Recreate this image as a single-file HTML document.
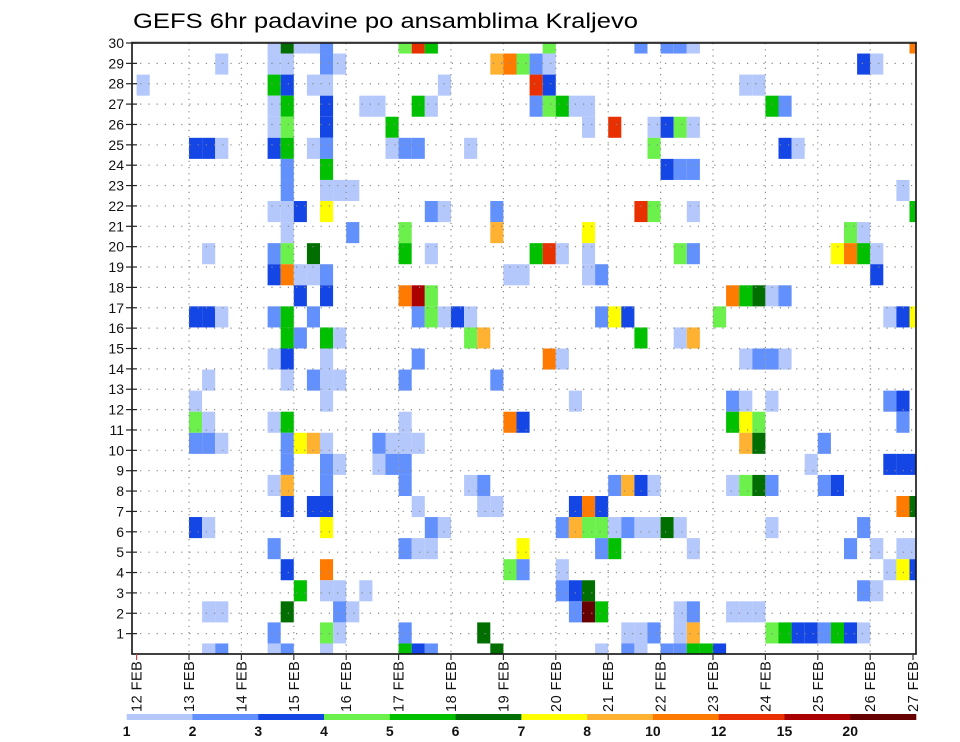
<!DOCTYPE html>
<html><head><meta charset="utf-8"><title>GEFS 6hr padavine po ansamblima Kraljevo</title>
<style>
html,body{margin:0;padding:0;background:#fff;}
svg{display:block;font-family:"Liberation Sans",sans-serif;}
</style></head>
<body>
<svg id="chart" width="960" height="742" viewBox="0 0 960 742" xmlns="http://www.w3.org/2000/svg">
<rect x="0" y="0" width="960" height="742" fill="#fff"/>
<text x="133" y="28" font-size="21" textLength="505" lengthAdjust="spacingAndGlyphs" fill="#000">GEFS 6hr padavine po ansamblima Kraljevo</text>
<g id="cells"></g>
<g id="grid"></g>
<g id="axes"></g>
<g id="legend"></g>
</svg>
<script>
// ---- data ----
const dayLabels = ["12 FEB","13 FEB","14 FEB","15 FEB","16 FEB","17 FEB","18 FEB","19 FEB","20 FEB","21 FEB","22 FEB","23 FEB","24 FEB","25 FEB","26 FEB","27 FEB"];
const memberTicks = [1,2,3,4,5,6,7,8,9,10,11,12,13,14,15,16,17,18,19,20,21,22,23,24,25,26,27,28,29,30];
const levelLabels = ["1","2","3","4","5","6","7","8","10","12","15","20"];
const levelCodes = "LMDgGKYAORXZ";
// each row (top to bottom): "timestepIndex+levelCode"
const rowCells = [
"10L 11K 12L 13L 14M 20g 21R 22G 31g 38M 40M 41M 42L 59O",
"6L 10L 11L 14M 15L 27A 28O 29g 30M 31L 55D 56L",
"0L 10G 11D 13L 14L 23L 30R 31D 46L 47L",
"10L 11G 14D 17L 18L 21G 22L 30M 31g 32G 33L 34L 48G 49M",
"10L 11g 14D 19G 34L 36R 39L 40D 41g 42L",
"4D 5D 6L 10D 11G 13L 14M 19L 20M 21M 25L 39g 49D 50L",
"11M 14G 40D 41M 42M",
"11M 14L 15L 16L 58L",
"10L 11L 12D 14Y 22M 23L 27M 38R 39g 42L 59G",
"11L 16M 20g 27A 34Y 54g 55L",
"5L 10M 11g 13K 20G 22L 30G 31R 32L 34L 41g 42M 53Y 54O 55G 56L",
"10D 11O 12L 13L 14M 28L 29L 34L 35M 56D",
"12D 14D 20O 21X 22g 45O 46G 47K 48L 49M",
"4D 5D 6L 10M 11G 13M 21M 22g 23L 24D 25L 35M 36Y 37D 44g 57L 58D 59Y",
"11G 12M 14G 15L 25g 26A 38G 41L 42A",
"10L 11D 14L 21M 31O 32L 46L 47M 48M 49L",
"5L 11L 13M 14L 15L 20M 27M",
"4L 14L 33L 45M 46L 48L 57M 58D",
"4g 5L 10L 11G 20L 28O 29D 45G 46Y 47g 58M",
"4M 5M 6L 11M 12Y 13A 14L 18M 19L 20L 21L 46A 47K 52M",
"11M 14M 15L 18L 19M 20M 51L 57D 58D 59D",
"10L 11A 14M 20M 25L 26M 36M 37A 38D 39L 45L 46g 47K 48M 52M 53D",
"11D 13D 14D 21L 26L 27L 33D 34O 35D 58O 59K",
"4D 5L 14Y 22M 23L 32M 33A 34g 35g 36L 37M 38L 39L 40K 41L 48L 55M",
"10M 20M 21L 22L 29Y 35M 36G 42L 54M 56L 58L 59L",
"11D 14O 28g 29M 32L 57L 58Y 59D",
"12G 14L 15L 17L 32M 33D 34K 55M 56L",
"5L 6L 11K 15M 16L 33M 34Z 35G 41L 42M 45L 46L 47L",
"10M 14g 15L 20M 26K 37L 38L 39M 41L 42A 48g 49G 50D 51D 52M 53G 54D 55L",
"5L 6M 10L 11M 14L 20G 21D 22M 27K 35L 37M 38L 40M 41M 42G 43G 44D"
];
// ---- styles ----
const levelColors = ["#b4c8fc","#6290fc","#1446e6","#6cf04c","#00c000","#006e00","#ffff00","#ffb232","#ff7a00","#e83000","#aa0000","#660000"];
const PL = 132, PR = 916, PT = 43, PB = 654;
function xTime(step){ return 136.6 + step * 13.1; }          // 6h step -> x
function xDay(d){ return xTime(d * 4); }
function yAxis(m){ return PB - m * (PB - PT) / 30; }            // member tick -> y
function yRow(k){ return PT + k * (PB - PT) / 29; }              // cell row center
const NS = "http://www.w3.org/2000/svg";
function mk(tag, attrs, parent){ const e = document.createElementNS(NS, tag); for (const a in attrs) e.setAttribute(a, attrs[a]); parent.appendChild(e); return e; }

// ---- cells ----
const gCells = document.getElementById('cells');
const halfH = (PB - PT) / 58;
rowCells.forEach((row, k) => {
  row.split(' ').forEach(tok => {
    if (!tok) return;
    const step = parseInt(tok, 10);
    const code = tok.replace(/[0-9]/g, '');
    const lvl = levelCodes.indexOf(code);
    let x0 = Math.max(PL, xTime(step)), x1 = Math.min(PR, xTime(step + 1));
    let y0 = Math.max(PT, yRow(k) - halfH), y1 = Math.min(PB, yRow(k) + halfH);
    const r = mk('rect', {x: x0, y: y0, width: x1 - x0, height: y1 - y0, fill: levelColors[lvl]}, gCells);
    
    
  });
});

// ---- grid ----
const gGrid = document.getElementById('grid');
memberTicks.forEach(m => {
  if (m === 30) return;
  const l = mk('line', {x1: PL, x2: PR, y1: yAxis(m), y2: yAxis(m), stroke: '#8a8a8a', 'stroke-width': 1.2, 'stroke-dasharray': '1.2 7'}, gGrid);
  
  
});
for (let d = 1; d < 15; d++) {
  const l = mk('line', {x1: xDay(d), x2: xDay(d), y1: PT, y2: PB, stroke: '#8a8a8a', 'stroke-width': 1.2, 'stroke-dasharray': '1.2 5'}, gGrid);
  
  
}

// ---- axes ----
const gAx = document.getElementById('axes');
const frame = mk('rect', {x: PL, y: PT, width: PR - PL, height: PB - PT, fill: 'none', stroke: '#111', 'stroke-width': 1.6}, gAx);


mk('line', {x1: PL - 1, x2: PR + 1, y1: PT - 0.5, y2: PT - 0.5, stroke: '#333', 'stroke-width': 1.5}, gAx);
memberTicks.forEach(m => {
  const t = mk('line', {x1: PL - 6, x2: PL + 5, y1: yAxis(m), y2: yAxis(m), stroke: '#222', 'stroke-width': 1.2}, gAx);
  
  
  const tx = mk('text', {x: PL - 8, y: yAxis(m) + 5, 'font-size': 14, 'text-anchor': 'end', fill: '#111'}, gAx);
  tx.textContent = m;
  
  
});
dayLabels.forEach((lab, d) => {
  const x = Math.min(xDay(d), 913);
  const t = mk('line', {x1: x, x2: x, y1: PB, y2: PB + 6, stroke: d === 0 ? '#c44' : '#333', 'stroke-width': 1.2}, gAx);
  
  
  const tx = mk('text', {transform: 'translate(' + (x + 5) + ',712) rotate(-90)', 'font-size': 14.5, fill: '#111', 'letter-spacing': '0.5'}, gAx);
  tx.textContent = lab;
  
  
});

// ---- legend ----
const gLeg = document.getElementById('legend');
const LX0 = 126.7, LW = (916 - 126.7) / 12;
levelColors.forEach((c, i) => {
  const r = mk('rect', {x: LX0 + i * LW, y: 714, width: LW + 0.3, height: 6, fill: c}, gLeg);
  
  
});
levelLabels.forEach((lab, i) => {
  const tx = mk('text', {x: LX0 + i * LW, y: 736, 'font-size': 14, 'text-anchor': 'middle', fill: '#111', 'font-weight': 'bold'}, gLeg);
  tx.textContent = lab;
  
  
});
</script>
</body></html>
